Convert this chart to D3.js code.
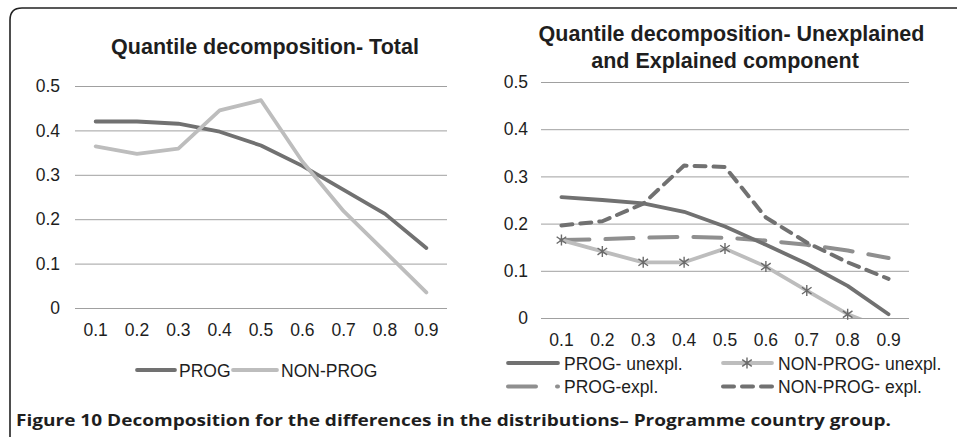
<!DOCTYPE html>
<html>
<head>
<meta charset="utf-8">
<script src="https://cdn.jsdelivr.net/npm/d3@7/dist/d3.min.js"></script>
<style>
  html, body { margin: 0; padding: 0; background: #fff; }
  svg { display: block; }
  text { font-family: "Liberation Sans", Arial, sans-serif; fill: #1e1e1e; }
</style>
</head>
<body>
<svg id="chart" width="957" height="439"></svg>
<script>
// ---------- data ----------
const quantiles = ["0.1","0.2","0.3","0.4","0.5","0.6","0.7","0.8","0.9"];
const yTickValues = [0, 0.1, 0.2, 0.3, 0.4, 0.5];
const yTickLabels = ["0", "0.1", "0.2", "0.3", "0.4", "0.5"];

// Left panel: total
const totalProg    = [0.420, 0.420, 0.415, 0.397, 0.366, 0.320, 0.266, 0.212, 0.135];
const totalNonProg = [0.364, 0.347, 0.359, 0.445, 0.468, 0.330, 0.218, 0.127, 0.035];

// Right panel: unexplained / explained
const progUnexpl    = [0.256, 0.250, 0.243, 0.225, 0.194, 0.155, 0.115, 0.068, 0.008];
const nonProgUnexpl = [0.165, 0.141, 0.118, 0.118, 0.147, 0.109, 0.058, 0.008, -0.026];
const progExpl      = [0.165, 0.167, 0.170, 0.172, 0.170, 0.164, 0.155, 0.143, 0.127];
const nonProgExpl   = [0.196, 0.205, 0.242, 0.323, 0.320, 0.213, 0.160, 0.118, 0.083];

const leftTitle = "Quantile decomposition- Total";
const rightTitle = ["Quantile decomposition- Unexplained", "and Explained component"];
const leftLegend = ["PROG", "NON-PROG"];
const rightLegend = ["PROG- unexpl.", "NON-PROG- unexpl.", "PROG-expl.", "NON-PROG- expl."];
const caption = "Figure 10 Decomposition for the differences in the distributions\u2013 Programme country group.";

// ---------- drawing ----------
const svg = d3.select("#chart");
const DARK = "#717171", LIGHT = "#bdbdbd", MID = "#8f8f8f", GRID = "#a0a0a0";
const FONT = '"Liberation Sans", Arial, sans-serif';
const starPath = "M0,-5.5L0,5.5M-4.8,-3.4L4.8,3.4M-4.8,3.4L4.8,-3.4";

// frame
svg.append("path")
  .attr("d", "M10,437 L10,20 Q10,8 22,8 L957,8")
  .attr("fill", "none").attr("stroke", "#222").attr("stroke-width", 1.6);

function panel(cfg) {
  const x = d3.scaleBand().domain(quantiles).range([cfg.x0, cfg.x1]).paddingInner(0).paddingOuter(0);
  const y = d3.scaleLinear().domain([0, 0.5]).range([cfg.y0, cfg.y1]);
  const g = svg.append("g");

  const yAxis = d3.axisLeft(y).tickValues(yTickValues)
    .tickFormat((d, i) => yTickLabels[i])
    .tickSizeInner(-(cfg.x1 - cfg.x0)).tickSizeOuter(0).tickPadding(cfg.yPad);
  const ya = g.append("g").attr("transform", `translate(${cfg.x0},0)`).call(yAxis);
  ya.select(".domain").remove();
  ya.selectAll("line").attr("stroke", GRID).attr("stroke-width", 1);
  ya.selectAll("text").attr("font-size", 17.5).attr("fill", "#1e1e1e").style("font-family", FONT);

  const xAxis = d3.axisBottom(x).tickSize(0).tickPadding(0);
  const xa = g.append("g").attr("transform", `translate(0,${cfg.xLabelY})`).call(xAxis);
  xa.select(".domain").remove();
  xa.selectAll("text").attr("font-size", 17.5).attr("dy", 0).attr("y", 0)
    .attr("fill", "#1e1e1e").style("font-family", FONT);

  const clipId = "clip" + cfg.id;
  svg.append("clipPath").attr("id", clipId).append("rect")
    .attr("x", cfg.x0 - 10).attr("y", cfg.y1 - 10)
    .attr("width", cfg.x1 - cfg.x0 + 20).attr("height", cfg.y0 - cfg.y1 + 10);

  const line = d3.line()
    .x((d, i) => x(quantiles[i]) + x.bandwidth() / 2)
    .y(d => y(d));
  const plot = g.append("g").attr("clip-path", `url(#${clipId})`);
  cfg.series.forEach(s => {
    plot.append("path").datum(s.values)
      .attr("d", line).attr("fill", "none")
      .attr("stroke", s.color).attr("stroke-width", s.width)
      .attr("stroke-linejoin", "round").attr("stroke-linecap", "round")
      .attr("stroke-dasharray", s.dash || null);
  });
  cfg.series.filter(s => s.marker).forEach(s => {
    g.append("g").selectAll("path").data(s.values.filter(v => v >= 0)).join("path")
      .attr("transform", (d, i) => `translate(${x(quantiles[i]) + x.bandwidth() / 2},${y(d)})`)
      .attr("d", starPath).attr("stroke", "#6a6a6a").attr("stroke-width", 1.4).attr("fill", "none");
  });
  return g;
}

panel({
  id: "L", x0: 75, x1: 447, y0: 308, y1: 86, yPad: 15, xLabelY: 336,
  series: [
    { values: totalProg, color: DARK, width: 3.8 },
    { values: totalNonProg, color: LIGHT, width: 3.8 }
  ]
});

panel({
  id: "R", x0: 541, x1: 909, y0: 318, y1: 82, yPad: 13, xLabelY: 346,
  series: [
    { values: progExpl, color: MID, width: 4, dash: "28,16" },
    { values: nonProgExpl, color: DARK, width: 4, dash: "11,8" },
    { values: nonProgUnexpl, color: LIGHT, width: 3.8, marker: true },
    { values: progUnexpl, color: DARK, width: 3.8 }
  ]
});

// titles
svg.append("text").attr("x", 265).attr("y", 54).attr("text-anchor", "middle")
  .attr("font-size", 21.5).attr("font-weight", "bold").text(leftTitle);
svg.append("text").attr("x", 731.5).attr("y", 41).attr("text-anchor", "middle")
  .attr("font-size", 21.5).attr("font-weight", "bold").text(rightTitle[0]);
svg.append("text").attr("x", 725).attr("y", 68).attr("text-anchor", "middle")
  .attr("font-size", 21.5).attr("font-weight", "bold").text(rightTitle[1]);

// legends
function legendLine(x1, x2, yy, color, dash, width) {
  svg.append("line").attr("x1", x1).attr("x2", x2).attr("y1", yy).attr("y2", yy)
    .attr("stroke", color).attr("stroke-width", width || 3.8)
    .attr("stroke-linecap", "round").attr("stroke-dasharray", dash || null);
}
function legendText(xx, yy, t) {
  svg.append("text").attr("x", xx).attr("y", yy).attr("font-size", 17.5).text(t);
}
legendLine(137, 175, 370, DARK);
legendText(179, 376.5, leftLegend[0]);
legendLine(233, 277, 370, LIGHT);
legendText(281, 376.5, leftLegend[1]);

legendLine(508, 558, 363, DARK);
legendText(564, 369.5, rightLegend[0]);
legendLine(723, 772, 363, LIGHT);
svg.append("path").attr("transform", "translate(747,363)").attr("d", starPath)
  .attr("stroke", "#6a6a6a").attr("stroke-width", 1.4).attr("fill", "none");
legendText(778, 369.5, rightLegend[1]);
legendLine(508, 558, 386.5, MID, "28,21", 4);
legendText(564, 393, rightLegend[2]);
legendLine(723, 772, 386.5, DARK, "11,8", 4);
legendText(778, 393, rightLegend[3]);

// caption
svg.append("text").attr("x", 16).attr("y", 426).attr("font-size", 15.5)
  .attr("font-weight", "bold")
  .attr("textLength", 875).attr("lengthAdjust", "spacingAndGlyphs")
  .style("font-family", '"Open Sans", "Noto Sans", sans-serif')
  .text(caption);
</script>
</body>
</html>
